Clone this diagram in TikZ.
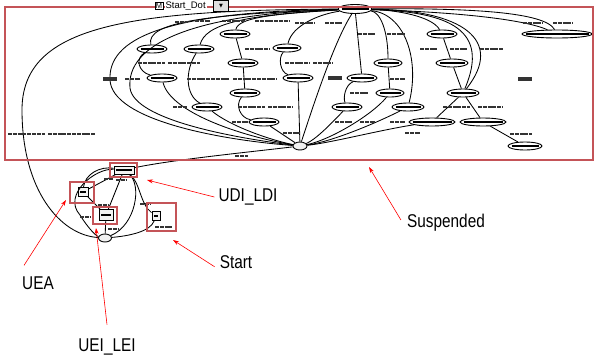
\documentclass[tikz,border=0pt]{standalone}
\usepackage{fontspec}
\newfontfamily\lblfont[FakeStretch=0.83]{Liberation Sans}
\newfontfamily\uifont{Liberation Sans}
\newfontfamily\symfont{DejaVu Sans}
\usetikzlibrary{shapes.geometric, arrows.meta}
\definecolor{rougesourd}{RGB}{196,84,88}

\tikzset{
  lien/.style={line width=0.85pt},
  etat/.style={ellipse, draw, line width=0.9pt, fill=white, minimum height=8pt, inner sep=0pt,
    path picture={\draw[line width=1.8pt] ([xshift=3.5pt]path picture bounding box.west) -- ([xshift=-3.5pt]path picture bounding box.east);}},
  boite/.style={rectangle, draw, line width=0.9pt, fill=gray!10, inner sep=0pt,
    path picture={\draw[line width=1.8pt] ([xshift=2pt]path picture bounding box.west) -- ([xshift=-2pt]path picture bounding box.east);}},
  cadre/.style={draw=rougesourd, line width=1.1pt},
  barre/.style={line width=1.4pt, black!80, dash pattern={on 4pt off 0.8pt}},
  gras/.style={line width=3.5pt, solid},
  fleche/.style={red, line width=0.6pt, -{Stealth[length=6pt,width=4pt]}},
  etiq/.style={font=\lblfont\fontsize{18.5}{20}\selectfont, inner sep=1pt}
}

\begin{document}
\begin{tikzpicture}[x=1pt,y=-1pt]
        \useasboundingbox[fill=white] (0,0) rectangle (595,362);

        % Noeuds du graphe suspendu
        \node[etat, minimum width=34pt, minimum height=9pt] (racine) at (355,9) {};
        \node[etat, minimum width=30pt] (e1) at (235,34) {};
        \node[etat, minimum width=30pt] (e2) at (152,49) {};
        \node[etat, minimum width=30pt] (e3) at (199,49) {};
        \node[etat, minimum width=30pt] (e4) at (243,63) {};
        \node[etat, minimum width=30pt] (e5) at (162,78) {};
        \node[etat, minimum width=30pt] (e6) at (245,93) {};
        \node[etat, minimum width=30pt] (e7) at (207,107) {};
        \node[etat, minimum width=30pt] (e8) at (264,122) {};
        \node[etat, minimum width=28pt] (e9) at (287,48) {};
        \node[etat, minimum width=30pt] (e10) at (298,78) {};
        \node[etat, minimum width=30pt] (e11) at (362,78) {};
        \node[etat, minimum width=28pt] (e12) at (388,63) {};
        \node[etat, minimum width=28pt] (e13) at (390,93) {};
        \node[etat, minimum width=30pt] (e14) at (347,107) {};
        \node[etat, minimum width=32pt] (e15) at (408,107) {};
        \node[etat, minimum width=30pt] (e16) at (442,34) {};
        \node[etat, minimum width=32pt] (e17) at (452,63) {};
        \node[etat, minimum width=32pt] (e18) at (463,93) {};
        \node[etat, minimum width=46pt] (e19) at (432,122) {};
        \node[etat, minimum width=46pt] (e20) at (483,122) {};
        \node[etat, minimum width=70pt] (e21) at (557,34) {};
        \node[etat, minimum width=34pt] (e22) at (525,146) {};
        \node[ellipse, draw, line width=0.9pt, fill=gray!10, minimum width=14pt, minimum height=8pt, inner sep=0pt] (hub) at (300,146) {};

        % Noeuds du bas
        \node[boite, minimum width=20pt, minimum height=8pt] (udi) at (124,170) {};
        \node[boite, minimum width=10pt, minimum height=9pt] (uea) at (83,192) {};
        \node[boite, minimum width=14pt, minimum height=11pt] (uei) at (106,215) {};
        \node[boite, minimum width=8pt, minimum height=9pt] (startn) at (156,216) {};
        \node[ellipse, draw, line width=0.9pt, fill=gray!10, minimum width=13pt, minimum height=8pt, inner sep=0pt] (deb) at (105,238) {};

        % Arcs partant de la racine vers la gauche
        \draw[lien] (racine) .. controls (120,10) and (22,28) .. (22,110) .. controls (22,190) and (60,235) .. (deb);
        \draw[lien] (racine) .. controls (160,12) and (108,40) .. (110,80) .. controls (112,120) and (220,140) .. (hub);
        \draw[lien] (racine) .. controls (190,14) and (126,45) .. (130,88) .. controls (134,120) and (235,138) .. (hub);
        \draw[lien] (racine) .. controls (210,14) and (145,22) .. (e2);
        \draw[lien] (racine) .. controls (270,14) and (238,18) .. (e1);
        \draw[lien] (racine) .. controls (240,15) and (205,25) .. (e3);
        \draw[lien] (racine) .. controls (320,14) and (292,25) .. (e9);
        \draw[lien] (racine) .. controls (335,40) and (315,100) .. (hub);

        % Chaines vers le noeud central
        \draw[lien] (e2) .. controls (135,58) and (138,72) .. (e5);
        \draw[lien] (e5) .. controls (170,112) and (240,136) .. (hub);
        \draw[lien] (e3) .. controls (185,70) and (185,95) .. (e7);
        \draw[lien] (e7) .. controls (230,126) and (270,140) .. (hub);
        \draw[lien] (e1) -- (e4);
        \draw[lien] (e4) -- (e6);
        \draw[lien] (e6) .. controls (235,105) and (240,118) .. (e8);
        \draw[lien] (e8) -- (hub);
        \draw[lien] (e9) .. controls (278,58) and (280,72) .. (e10);
        \draw[lien] (e10) -- (hub);

        % Arcs partant de la racine vers la droite
        \draw[lien] (racine) -- (e11);
        \draw[lien] (e11) .. controls (345,85) and (343,98) .. (e14);
        \draw[lien] (e14) .. controls (330,125) and (315,140) .. (hub);
        \draw[lien] (racine) .. controls (380,12) and (388,30) .. (e12);
        \draw[lien] (e12) -- (e13);
        \draw[lien] (e13) .. controls (372,115) and (330,140) .. (hub);
        \draw[lien] (racine) .. controls (405,14) and (420,60) .. (e15);
        \draw[lien] (e15) .. controls (372,125) and (330,142) .. (hub);
        \draw[lien] (racine) .. controls (395,10) and (432,16) .. (e16);
        \draw[lien] (e16) -- (e17);
        \draw[lien] (e17) -- (e18);
        \draw[lien] (racine) .. controls (450,12) and (490,30) .. (e18);
        \draw[lien] (racine) .. controls (462,10) and (505,40) .. (e18);
        \draw[lien] (e18) -- (e19);
        \draw[lien] (e18) -- (e20);
        \draw[lien] (e19) .. controls (380,130) and (330,143) .. (hub);
        \draw[lien] (e20) -- (e22);
        \draw[lien] (racine) .. controls (470,8) and (545,12) .. (e21);
        \draw[lien] (racine) .. controls (480,13) and (530,22) .. (e21);

        % Liaisons du bas
        \draw[lien] (hub) .. controls (250,152) and (170,160) .. (udi);
        \draw[lien] (udi) .. controls (100,166) and (85,174) .. (uea);
        \draw[lien] (udi) -- (uea);
        \draw[lien] (udi) .. controls (95,168) and (62,195) .. (80,215) .. controls (88,228) and (96,236) .. (deb);
        \draw[lien] (uea) -- (uei);
        \draw[lien] (udi) -- (uei);
        \draw[lien] (udi) .. controls (142,185) and (136,225) .. (deb);
        \draw[lien] (uei) -- (deb);
        \draw[lien] (udi) .. controls (140,182) and (140,204) .. (startn);
        \draw[lien] (deb) .. controls (128,236) and (150,232) .. (startn);

        % Etiquettes illisibles des arcs
        \foreach \xa/\xb/\yy in {175/188/22, 195/210/21, 222/245/21, 255/290/21, 295/315/23, 325/342/23,
            523/543/23, 553/573/23, 358/375/34, 387/405/34, 245/270/49, 420/437/49, 450/467/49, 480/503/49,
            138/165/63, 168/200/63, 285/310/63, 313/333/63, 125/140/79, 187/230/79, 233/277/79, 390/405/79,
            350/368/93, 173/187/107, 238/265/107, 268/293/107, 443/470/107, 478/503/107,
            232/248/122, 335/352/122, 360/375/122, 390/405/122, 283/300/133, 405/420/133, 510/532/134,
            8/45/134, 48/95/134, 235/248/156,
            104/113/179, 116/126/180, 98/108/205, 80/90/217, 108/118/229, 140/150/204, 155/172/227}
            \draw[barre] (\xa,\yy) -- (\xb,\yy);
        \foreach \xa/\xb/\yy in {103/117/79, 328/342/78, 518/532/79}
            \draw[barre, gras] (\xa,\yy) -- (\xb,\yy);

        % Cadres rouges
        \draw[cadre] (5,7) rectangle (593,160);
        \draw[cadre] (110,163) rectangle (137,177);
        \draw[cadre] (70,182) rectangle (94,203);
        \draw[cadre] (93,207) rectangle (117,224);
        \draw[cadre] (147,203) rectangle (176,231);

        % Selecteur en haut
        \node[draw, fill=white, inner sep=1pt, font=\uifont\fontsize{7.5}{7.5}\selectfont] (mbox) at (159,6) {M};
        \node[right=1pt, fill=white, inner sep=1pt, font=\uifont\fontsize{9.5}{9.5}\selectfont] (combo) at (mbox.east) {Start\_Dot};
        \node[draw, fill=gray!25, minimum width=15pt, minimum height=11pt, inner sep=0pt, font=\symfont\fontsize{5}{5}\selectfont] (fleche-combo) at (221,6) {▼};

        % Etiquettes rouges
        \node[etiq] (lbludi) at (248,197) {UDI\_LDI};
        \node[etiq] (lbluea) at (38,283) {UEA};
        \node[etiq] (lbluei) at (107,347) {UEI\_LEI};
        \node[etiq] (lblstart) at (236,262) {Start};
        \node[etiq] (lblsusp) at (446,223) {Suspended};

        \coordinate (tudi) at (147,180);
        \coordinate (tuea) at (66,200);
        \coordinate (tuei) at (96,228);
        \coordinate (tstart) at (173,240);
        \coordinate (tsusp) at (369,167);

        \draw[fleche] ([xshift=-3pt]lbludi.west) -- (tudi);
        \draw[fleche] ([shift={(3pt,10pt)}]lbluea.north west) -- (tuea);
        \draw[fleche] ([yshift=13pt]lbluei.north) -- (tuei);
        \draw[fleche] ([xshift=-4pt,yshift=3pt]lblstart.south west) -- (tstart);
        \draw[fleche] ([shift={(-5pt,3pt)}]lblsusp.west) -- (tsusp);

    \end{tikzpicture}
\end{document}
